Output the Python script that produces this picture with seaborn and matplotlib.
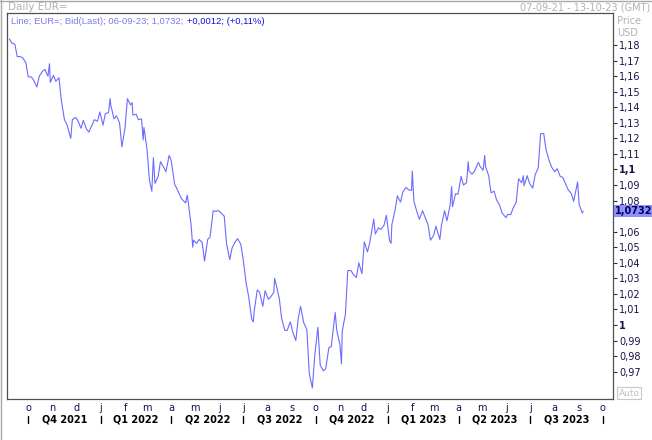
import pandas as pd
import seaborn as sns
import matplotlib.pyplot as plt
from matplotlib.transforms import blended_transform_factory
from matplotlib.lines import Line2D

# --- data (EUR= daily bid) ---
dates = [
    "21-09-07", "21-09-10", "21-09-14", "21-09-17", "21-09-21", "21-09-24", "21-09-28", "21-10-01",
    "21-10-05", "21-10-08", "21-10-12", "21-10-15", "21-10-19", "21-10-22", "21-10-26", "21-10-28",
    "21-10-29", "21-11-02", "21-11-05", "21-11-09", "21-11-12", "21-11-16", "21-11-19", "21-11-24",
    "21-11-26", "21-11-30", "21-12-03", "21-12-07", "21-12-10", "21-12-14", "21-12-17", "21-12-21",
    "21-12-24", "21-12-28", "21-12-31",
    "22-01-04", "22-01-07", "22-01-11", "22-01-13", "22-01-14", "22-01-18", "22-01-21", "22-01-25",
    "22-01-28", "22-02-01", "22-02-04", "22-02-08", "22-02-10", "22-02-11", "22-02-15", "22-02-18",
    "22-02-22", "22-02-24", "22-02-25", "22-03-01", "22-03-04", "22-03-07", "22-03-09", "22-03-11",
    "22-03-15", "22-03-18", "22-03-22", "22-03-25", "22-03-29", "22-03-31", "22-04-01", "22-04-05",
    "22-04-08", "22-04-12", "22-04-14", "22-04-19", "22-04-21", "22-04-22", "22-04-26", "22-04-28",
    "22-04-29", "22-05-03", "22-05-06", "22-05-10", "22-05-13", "22-05-17", "22-05-20", "22-05-24",
    "22-05-27", "22-05-31", "22-06-03", "22-06-07", "22-06-10", "22-06-14", "22-06-17", "22-06-21",
    "22-06-24", "22-06-28", "22-07-01", "22-07-05", "22-07-08", "22-07-12", "22-07-14", "22-07-15",
    "22-07-19", "22-07-22", "22-07-26", "22-07-29", "22-08-02", "22-08-05", "22-08-09", "22-08-10",
    "22-08-12", "22-08-16", "22-08-19", "22-08-23", "22-08-26", "22-08-30", "22-09-02", "22-09-06",
    "22-09-09", "22-09-12", "22-09-16", "22-09-20", "22-09-23", "22-09-27", "22-09-30", "22-10-04",
    "22-10-07", "22-10-11", "22-10-14", "22-10-18", "22-10-21", "22-10-26", "22-10-28", "22-11-01",
    "22-11-03", "22-11-04", "22-11-08", "22-11-11", "22-11-15", "22-11-18", "22-11-22", "22-11-25",
    "22-11-29", "22-12-02", "22-12-06", "22-12-09", "22-12-14", "22-12-16", "22-12-20", "22-12-23",
    "22-12-27", "22-12-30",
    "23-01-03", "23-01-05", "23-01-06", "23-01-10", "23-01-13", "23-01-17", "23-01-20", "23-01-24",
    "23-01-27", "23-01-31", "23-02-01", "23-02-03", "23-02-07", "23-02-10", "23-02-14", "23-02-17",
    "23-02-21", "23-02-24", "23-02-28", "23-03-03", "23-03-08", "23-03-10", "23-03-14", "23-03-17",
    "23-03-21", "23-03-23", "23-03-24", "23-03-28", "23-03-31", "23-04-04", "23-04-07", "23-04-11",
    "23-04-13", "23-04-14", "23-04-18", "23-04-21", "23-04-26", "23-04-28", "23-05-02", "23-05-04",
    "23-05-05", "23-05-09", "23-05-12", "23-05-16", "23-05-19", "23-05-23", "23-05-26", "23-05-31",
    "23-06-02", "23-06-06", "23-06-09", "23-06-13", "23-06-16", "23-06-20", "23-06-22", "23-06-23",
    "23-06-27", "23-06-30", "23-07-04", "23-07-07", "23-07-11", "23-07-14", "23-07-18", "23-07-21",
    "23-07-25", "23-07-28", "23-08-01", "23-08-04", "23-08-08", "23-08-11", "23-08-15", "23-08-18",
    "23-08-22", "23-08-25", "23-08-30", "23-09-01", "23-09-05", "23-09-06",
]
rates = [
    1.1840, 1.1813, 1.1805, 1.1726, 1.1725, 1.1718, 1.1685, 1.1595,
    1.1595, 1.1572, 1.1530, 1.1600, 1.1630, 1.1644, 1.1600, 1.1680,
    1.1560, 1.1605, 1.1567, 1.1590, 1.1445, 1.1320, 1.1290, 1.1200,
    1.1320, 1.1335, 1.1315, 1.1265, 1.1315, 1.1260, 1.1240, 1.1285,
    1.1320, 1.1310, 1.1370,
    1.1285, 1.1360, 1.1365, 1.1455, 1.1410, 1.1325, 1.1345, 1.1300,
    1.1145, 1.1270, 1.1455, 1.1415, 1.1430, 1.1350, 1.1355, 1.1320,
    1.1325, 1.1190, 1.1270, 1.1125, 1.0930, 1.0860, 1.1075, 1.0910,
    1.0955, 1.1050, 1.1015, 1.0985, 1.1090, 1.1067, 1.1045, 1.0905,
    1.0875, 1.0830, 1.0810, 1.0785, 1.0835, 1.0800, 1.0640, 1.0500,
    1.0545, 1.0525, 1.0550, 1.0530, 1.0410, 1.0550, 1.0565, 1.0735,
    1.0730, 1.0735, 1.0720, 1.0700, 1.0520, 1.0420, 1.0495, 1.0535,
    1.0555, 1.0520, 1.0425, 1.0265, 1.0185, 1.0035, 1.0020, 1.0085,
    1.0225, 1.0210, 1.0120, 1.0220, 1.0165, 1.0180, 1.0210, 1.0300,
    1.0260, 1.0170, 1.0040, 0.9965, 0.9965, 1.0020, 0.9955, 0.9900,
    1.0040, 1.0120, 1.0015, 0.9970, 0.9690, 0.9595, 0.9800, 0.9985,
    0.9740, 0.9705, 0.9720, 0.9855, 0.9860, 1.0080, 0.9965, 0.9875,
    0.9750, 0.9960, 1.0070, 1.0350, 1.0350, 1.0325, 1.0305, 1.0400,
    1.0330, 1.0535, 1.0470, 1.0530, 1.0680, 1.0585, 1.0625, 1.0615,
    1.0640, 1.0705,
    1.0545, 1.0525, 1.0645, 1.0735, 1.0830, 1.0790, 1.0855, 1.0885,
    1.0870, 1.0865, 1.0990, 1.0795, 1.0725, 1.0680, 1.0735, 1.0695,
    1.0645, 1.0545, 1.0575, 1.0635, 1.0550, 1.0640, 1.0735, 1.0670,
    1.0770, 1.0890, 1.0760, 1.0845, 1.0840, 1.0955, 1.0900, 1.0915,
    1.1050, 1.0990, 1.0970, 1.0990, 1.1045, 1.1020, 1.0995, 1.1090,
    1.1020, 1.0960, 1.0850, 1.0860, 1.0805, 1.0770, 1.0720, 1.0690,
    1.0710, 1.0710, 1.0750, 1.0790, 1.0940, 1.0915, 1.0960, 1.0895,
    1.0960, 1.0910, 1.0880, 1.0965, 1.1010, 1.1230, 1.1230, 1.1125,
    1.1055, 1.1015, 1.0985, 1.1005, 1.0955, 1.0950, 1.0905, 1.0870,
    1.0845, 1.0795, 1.0920, 1.0775, 1.0720, 1.0732,
]
price_ticks = [0.97, 0.98, 0.99, 1.00, 1.01, 1.02, 1.03, 1.04, 1.05, 1.06, 1.07,
               1.08, 1.09, 1.10, 1.11, 1.12, 1.13, 1.14, 1.15, 1.16, 1.17, 1.18]
month_letters = ["o", "n", "d", "j", "f", "m", "a", "m", "j", "j", "a", "s"] * 2 + ["o"]
quarter_labels = ["Q4 2021", "Q1 2022", "Q2 2022", "Q3 2022",
                  "Q4 2022", "Q1 2023", "Q2 2023", "Q3 2023"]
last_value = 1.0732

# --- setup ---
W, H = 652, 440
sns.set_style("white")
plt.rcParams['font.family'] = ['DejaVu Sans']

def fx(px):
    return px / W

def fy(py):
    return 1 - py / H

LINE_BLUE = '#6b6bff'
INK = '#14144a'
GREY = '#b0b0b0'

fig = plt.figure(figsize=(W / 100, H / 100), dpi=100)
ax = fig.add_axes([fx(7), fy(399), (613 - 7) / W, (399 - 13) / H])

df = pd.DataFrame({'date': pd.to_datetime(dates, format='%y-%m-%d'), 'rate': rates})
sns.lineplot(data=df, x='date', y='rate', ax=ax, color=LINE_BLUE, linewidth=0.8)

ax.set_xlim(pd.Timestamp('2021-09-04'), pd.Timestamp('2023-10-14'))
ax.set_ylim(0.9524, 1.2006)
ax.set_xlabel('')
ax.set_ylabel('')

for sp in ax.spines.values():
    sp.set_color('#505050')
    sp.set_linewidth(0.9)

# right price axis
ax.yaxis.tick_right()
ax.set_yticks(price_ticks)
ylabels = []
for v in price_ticks:
    s = f"{v:.2f}".rstrip('0').rstrip('.')
    ylabels.append(s.replace('.', ','))
ax.set_yticklabels(ylabels)
ax.tick_params(axis='y', direction='out', length=3, width=0.8, color='#303030',
               labelsize=7, labelcolor=INK, pad=1.5)
for lab, v in zip(ax.get_yticklabels(), price_ticks):
    if abs(v - 1.0) < 1e-9 or abs(v - 1.1) < 1e-9:
        lab.set_fontweight('bold')
    if abs(v - last_value) < 0.006:
        # sits under the last-value flag, as on the original
        lab.set_alpha(0.0)

# month ticks / quarter bands
month_starts = pd.date_range('2021-10-01', '2023-10-01', freq='MS')
ax.set_xticks(month_starts)
ax.set_xticklabels(month_letters)
ax.tick_params(axis='x', direction='out', length=2, width=0.8, color='#303030',
               labelsize=7, labelcolor=INK, pad=1)

trans = blended_transform_factory(ax.transData, ax.transAxes)
q_starts = pd.date_range('2021-10-01', '2023-10-01', freq='QS')
for q in q_starts:
    ax.plot([q, q], [-0.044, -0.063], transform=trans, clip_on=False,
            color='black', linewidth=1)
for i, lab in enumerate(quarter_labels):
    mid = q_starts[i] + (q_starts[i + 1] - q_starts[i]) / 2
    ax.text(mid, -0.053, lab, transform=trans, ha='center', va='center',
            fontsize=7, fontweight='bold', color='black', clip_on=False)

# last value marker on the price axis
ytrans = blended_transform_factory(ax.transAxes, ax.transData)
ax.text(1.003, last_value, f"{last_value:.4f}".replace('.', ','), transform=ytrans,
        ha='left', va='center', fontsize=7, fontweight='bold', color='#000050',
        bbox=dict(boxstyle='square,pad=0.12', fc='#8f8fff', ec='none'),
        zorder=10, clip_on=False)

# header texts
fig.text(fx(8), fy(7), 'Daily EUR=', color=GREY, fontsize=7.5, va='center', ha='left')
fig.text(fx(650), fy(7), '07-09-21 - 13-10-23 (GMT)', color=GREY, fontsize=7,
         va='center', ha='right')
head1 = fig.text(fx(11), fy(22), 'Line; EUR=; Bid(Last); 06-09-23; 1,0732;', color='#7b7bef',
                 fontsize=6.8, va='center', ha='left', family=['Liberation Sans', 'DejaVu Sans'])
renderer = fig.canvas.get_renderer()
x_end = head1.get_window_extent(renderer).x1
fig.text((x_end + 4) / W, fy(22), '+0,0012; (+0,11%)', color='#1010e0', fontsize=6.8,
         va='center', ha='left', family=['Liberation Sans', 'DejaVu Sans'])
fig.text(fx(617), fy(21), 'Price', color=GREY, fontsize=7, va='center', ha='left')
fig.text(fx(617), fy(33), 'USD', color=GREY, fontsize=7, va='center', ha='left')
fig.text(fx(629), fy(393), 'Auto', color='#c0c0c0', fontsize=6.5, va='center', ha='center',
         bbox=dict(boxstyle='square,pad=0.15', fc='white', ec='#c8c8c8', lw=0.8))

# outer window frame
fig.add_artist(Line2D([fx(1), fx(1)], [0, 1], color='#a8a8a8', lw=1, transform=fig.transFigure))
fig.add_artist(Line2D([0, 1], [fy(1), fy(1)], color='#a8a8a8', lw=1, transform=fig.transFigure))

fig.savefig('out.png', dpi=100)
